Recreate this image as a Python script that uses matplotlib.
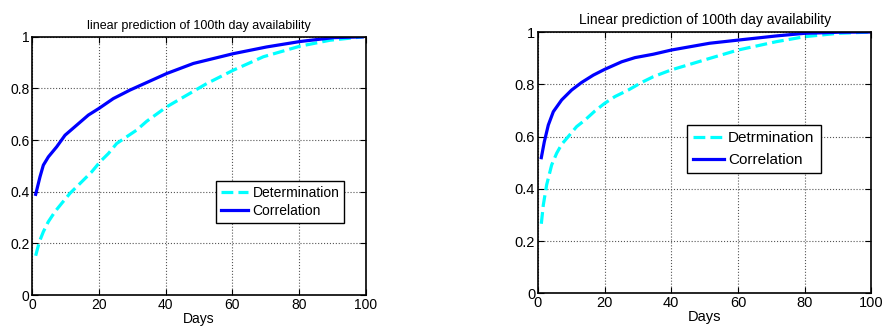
import matplotlib
matplotlib.use("Agg")
import matplotlib.pyplot as plt

plt.rcParams['font.family'] = ['Liberation Sans', 'DejaVu Sans']

# left panel
days_l = [1, 2.3, 3.3, 4.8, 7.3, 9.8, 13.3, 16.8, 20, 24.3, 29.3, 34.8, 40.3, 48.3, 60.3, 70.3, 80.3, 90.3, 99]
corr_l = [0.39, 0.458, 0.503, 0.535, 0.574, 0.619, 0.658, 0.697, 0.723, 0.761, 0.794, 0.826,
          0.858, 0.897, 0.935, 0.961, 0.982, 0.997, 1.0]
days_ld = [1, 2.1, 3.3, 4.8, 6.8, 8.8, 11.3, 14.3, 17.8, 20.3, 22.8, 25.3, 28.3, 31.3, 34.3,
           40.3, 46.3, 52.3, 60.3, 69.3, 80.3, 89.3, 99]
det_l = [0.152, 0.206, 0.245, 0.284, 0.323, 0.355, 0.394, 0.432, 0.477, 0.516, 0.548, 0.587,
         0.613, 0.639, 0.673, 0.729, 0.774, 0.819, 0.871, 0.923, 0.964, 0.987, 1.0]

# right panel
days_r = [1, 1.9, 3.1, 4.6, 7.1, 10.1, 13.1, 16.6, 20, 25.1, 29.1, 34.6, 40, 51.5, 60, 71.5, 80, 90, 100]
corr_r = [0.519, 0.58, 0.644, 0.695, 0.74, 0.778, 0.807, 0.835, 0.857, 0.886, 0.902, 0.915,
          0.931, 0.957, 0.969, 0.985, 0.995, 0.999, 1.0]
days_rd = [1, 1.6, 2.6, 4.1, 5.6, 7.1, 9.1, 11.6, 14.1, 17.1, 20, 23.1, 27.1, 31.1, 34.6,
           40, 51.5, 60, 71.5, 80, 90, 100]
det_r = [0.266, 0.338, 0.415, 0.491, 0.536, 0.57, 0.6, 0.638, 0.663, 0.698, 0.727, 0.753,
         0.778, 0.807, 0.829, 0.855, 0.899, 0.931, 0.963, 0.982, 0.995, 1.0]

fig = plt.figure(figsize=(8.86, 3.28), dpi=100)
ax1 = fig.add_axes([0.0365, 0.1006, 0.3763, 0.787])
ax2 = fig.add_axes([0.6072, 0.1058, 0.3762, 0.7966])


def style(ax, fs):
    ax.set_xlim(0, 100)
    ax.set_ylim(0, 1)
    ax.set_xticks([0, 20, 40, 60, 80, 100])
    ax.set_yticks([0, 0.2, 0.4, 0.6, 0.8, 1])
    ax.set_yticklabels(['0', '0.2', '0.4', '0.6', '0.8', '1'])
    ax.grid(True, linestyle=':', color='#555555', linewidth=0.8)
    ax.tick_params(direction='in', top=True, right=True, labelsize=fs, pad=2, length=4)
    for s in ax.spines.values():
        s.set_linewidth(1.2)


ax1.plot(days_ld, det_l, color='cyan', linestyle='--', linewidth=2.3, label='Determination')
ax1.plot(days_l, corr_l, color='blue', linewidth=2.3, label='Correlation')
style(ax1, 10)
ax1.set_title('linear prediction of 100th day availability', fontsize=9, pad=6)
ax1.set_xlabel('Days', fontsize=10, labelpad=0)
leg1 = ax1.legend(loc='lower left', bbox_to_anchor=(0.55, 0.28), fontsize=10, fancybox=False,
                  edgecolor='black', framealpha=1, borderpad=0.35, handlelength=2.0,
                  handletextpad=0.3, labelspacing=0.3, borderaxespad=0)
leg1.get_frame().set_linewidth(1)

ax2.plot(days_rd, det_r, color='cyan', linestyle='--', linewidth=2.3, label='Detrmination')
ax2.plot(days_r, corr_r, color='blue', linewidth=2.3, label='Correlation')
style(ax2, 10.5)
ax2.set_title('Linear prediction of 100th day availability', fontsize=10, pad=6)
ax2.set_xlabel('Days', fontsize=10.5, labelpad=0)
leg2 = ax2.legend(loc='lower left', bbox_to_anchor=(0.447, 0.46), fontsize=11, fancybox=False,
                  edgecolor='black', framealpha=1, borderpad=0.4, handlelength=2.0,
                  handletextpad=0.3, labelspacing=0.5, borderaxespad=0)
leg2.get_frame().set_linewidth(1)

fig.savefig('out.png', dpi=100)
